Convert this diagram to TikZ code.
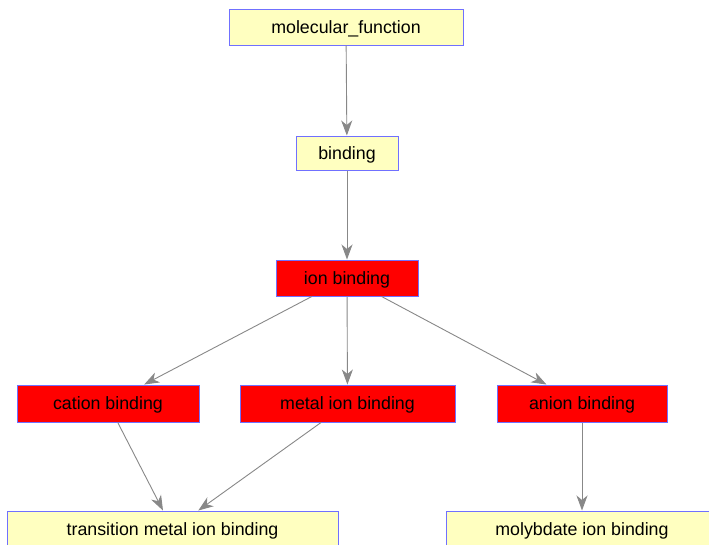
\documentclass[tikz,border=0pt]{standalone}
\usepackage{fontspec}
\setmainfont{Liberation Sans}
\usetikzlibrary{arrows.meta}
\definecolor{boxyellow}{HTML}{FFFFC0}
\definecolor{boxred}{HTML}{FF0000}
\definecolor{boxline}{HTML}{7070FF}
\definecolor{edgegray}{HTML}{888888}
\begin{document}
\begin{tikzpicture}[x=1pt,y=-1pt,
  term/.style={draw=boxline, line width=1pt, inner sep=0pt, minimum height=36pt,
    font=\fontsize{17.8}{20}\selectfont, text=black, text depth=0pt},
  yterm/.style={term, fill=boxyellow},
  rterm/.style={term, fill=boxred},
  edge/.style={draw=edgegray, line width=0.9pt,
    -{Stealth[length=15pt,width=11pt,inset=4.5pt]}}]
\useasboundingbox (0,0) rectangle (709,544);
\clip (0,0) rectangle (709,544);
\fill[white] (0,0) rectangle (709,544);
\node[yterm, minimum width=234pt] (mf) at (346,27) {molecular\_function};
\node[yterm, minimum width=102pt, minimum height=34pt] (bind) at (347,153) {binding};
\node[rterm, minimum width=142pt] (ion) at (347,278) {ion binding};
\node[rterm, minimum width=182pt, minimum height=37pt] (cat) at (108,403.5) {cation binding};
\node[rterm, minimum width=215pt, minimum height=37pt] (met) at (347.5,403.5) {metal ion binding};
\node[rterm, minimum width=170pt, minimum height=37pt] (ani) at (582,403.5) {anion binding};
\node[yterm, minimum width=331pt] (tra) at (172.5,529) {transition metal ion binding};
\node[yterm, minimum width=272pt] (mol) at (582,529) {molybdate ion binding};
\draw[edge] (mf) -- (bind);
\draw[edge] (bind) -- (ion);
\draw[edge] (ion) -- (cat);
\draw[edge] (ion) -- (met);
\draw[edge] (ion) -- (ani);
\draw[edge] (cat) -- (tra);
\draw[edge] (met) -- (tra);
\draw[edge] (ani) -- (mol);
\end{tikzpicture}
\end{document}
